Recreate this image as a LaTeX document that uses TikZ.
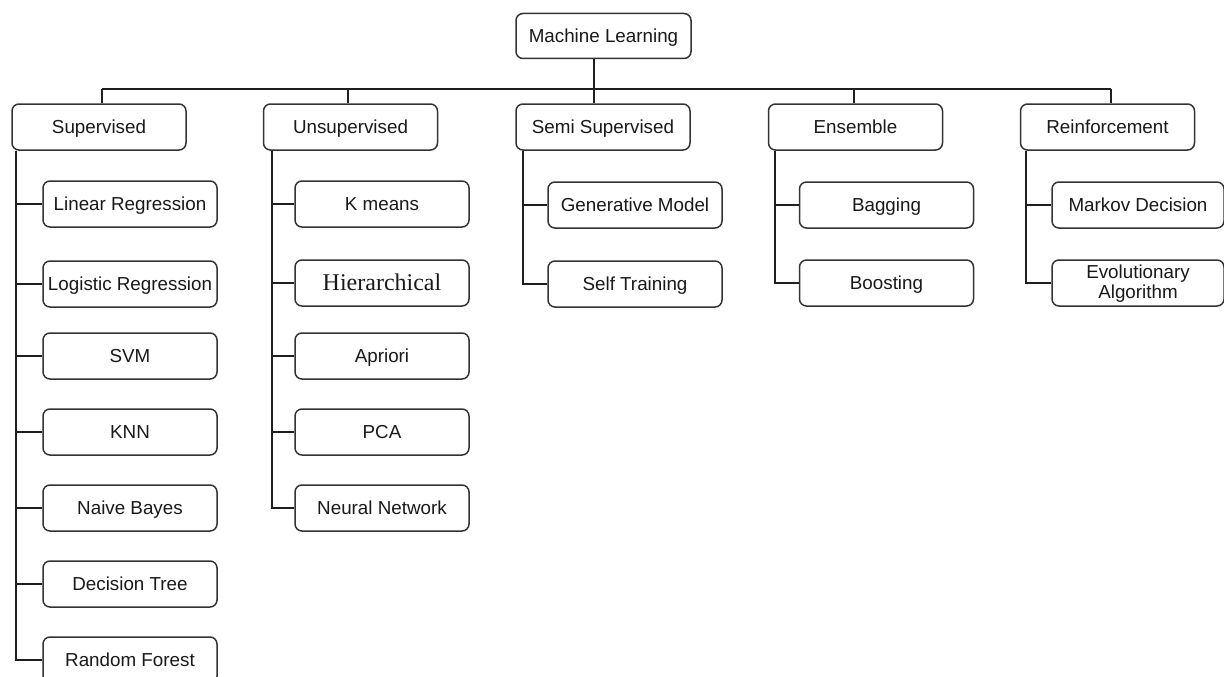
\documentclass[tikz,border=0pt]{standalone}
\usepackage{fontspec}
\setmainfont{Liberation Sans}
\newfontfamily\serifhier{Liberation Serif}
\begin{document}
\begin{tikzpicture}[x=1pt,y=-1pt,
  boxbase/.style={draw=black!80, fill=white, line width=1.5pt, rounded corners=7pt,
    minimum width=174pt, minimum height=46pt, inner sep=0pt, align=center,
    font=\fontsize{18.8}{20}\selectfont, text=black!90},
  box/.style={boxbase, text height=13.5pt, text depth=0pt},
  link/.style={draw=black!88, line width=1.6pt}]
\useasboundingbox (0,0) rectangle (1224,677);
\clip (0,0) rectangle (1224,677);
% root
\node[box, minimum width=175pt, minimum height=45pt] (ML) at (603.5,36) {Machine Learning};
% level 1
\node[box] (S) at (99,127) {Supervised};
\node[box] (U) at (350.5,127) {Unsupervised};
\node[box] (SS) at (603,127) {Semi Supervised};
\node[box] (E) at (855.5,127) {Ensemble};
\node[box] (R) at (1107.5,127) {Reinforcement};
% drop coordinates on bus
\coordinate (d0) at (594,89);
\coordinate (d1) at (102,89);
\coordinate (d2) at (348,89);
\coordinate (d3) at (594,89);
\coordinate (d4) at (854,89);
\coordinate (d5) at (1111,89);
% supervised children
\node[box] (s1) at (130,204) {Linear Regression};
\node[box] (s2) at (130,284) {Logistic Regression};
\node[box] (s3) at (130,356) {SVM};
\node[box] (s4) at (130,432) {KNN};
\node[box] (s5) at (130,508) {Naive Bayes};
\node[box] (s6) at (130,584) {Decision Tree};
\node[box] (s7) at (130,660) {Random Forest};
% unsupervised children
\node[box] (u1) at (382,204) {K means};
\node[box, text height=15.9pt, font=\serifhier\fontsize{24}{26}\selectfont] (u2) at (382,283) {Hierarchical};
\node[box] (u3) at (382,356) {Apriori};
\node[box] (u4) at (382,432) {PCA};
\node[box] (u5) at (382,508) {Neural Network};
% semi supervised children
\node[box] (ss1) at (635,205) {Generative Model};
\node[box] (ss2) at (635,284) {Self Training};
% ensemble children
\node[box] (e1) at (886.5,205) {Bagging};
\node[box] (e2) at (886.5,283) {Boosting};
% reinforcement children
\node[box, minimum width=172pt] (r1) at (1138,205) {Markov Decision};
\node[boxbase, minimum width=172pt] (r2) at (1138,283) {\rule{0pt}{15pt}Evolutionary\\Algorithm};
% connectors root to level 1
\draw[link] (d0 |- ML.south) -- (d0);
\draw[link] (d1) -- (d5);
\draw[link] (d1) -- (d1 |- S.north);
\draw[link] (d2) -- (d2 |- U.north);
\draw[link] (d3) -- (d3 |- SS.north);
\draw[link] (d4) -- (d4 |- E.north);
\draw[link] (d5) -- (d5 |- R.north);
% spines
\foreach \c in {s1,s2,s3,s4,s5,s6,s7}{\draw[link] ([xshift=5pt]S.south west) |- (\c.west);}
\foreach \c in {u1,u2,u3,u4,u5}{\draw[link] ([xshift=9pt]U.south west) |- (\c.west);}
\foreach \c in {ss1,ss2}{\draw[link] ([xshift=8pt]SS.south west) |- (\c.west);}
\foreach \c in {e1,e2}{\draw[link] ([xshift=7pt]E.south west) |- (\c.west);}
\foreach \c in {r1,r2}{\draw[link] ([xshift=6pt]R.south west) |- (\c.west);}
\end{tikzpicture}
\end{document}
